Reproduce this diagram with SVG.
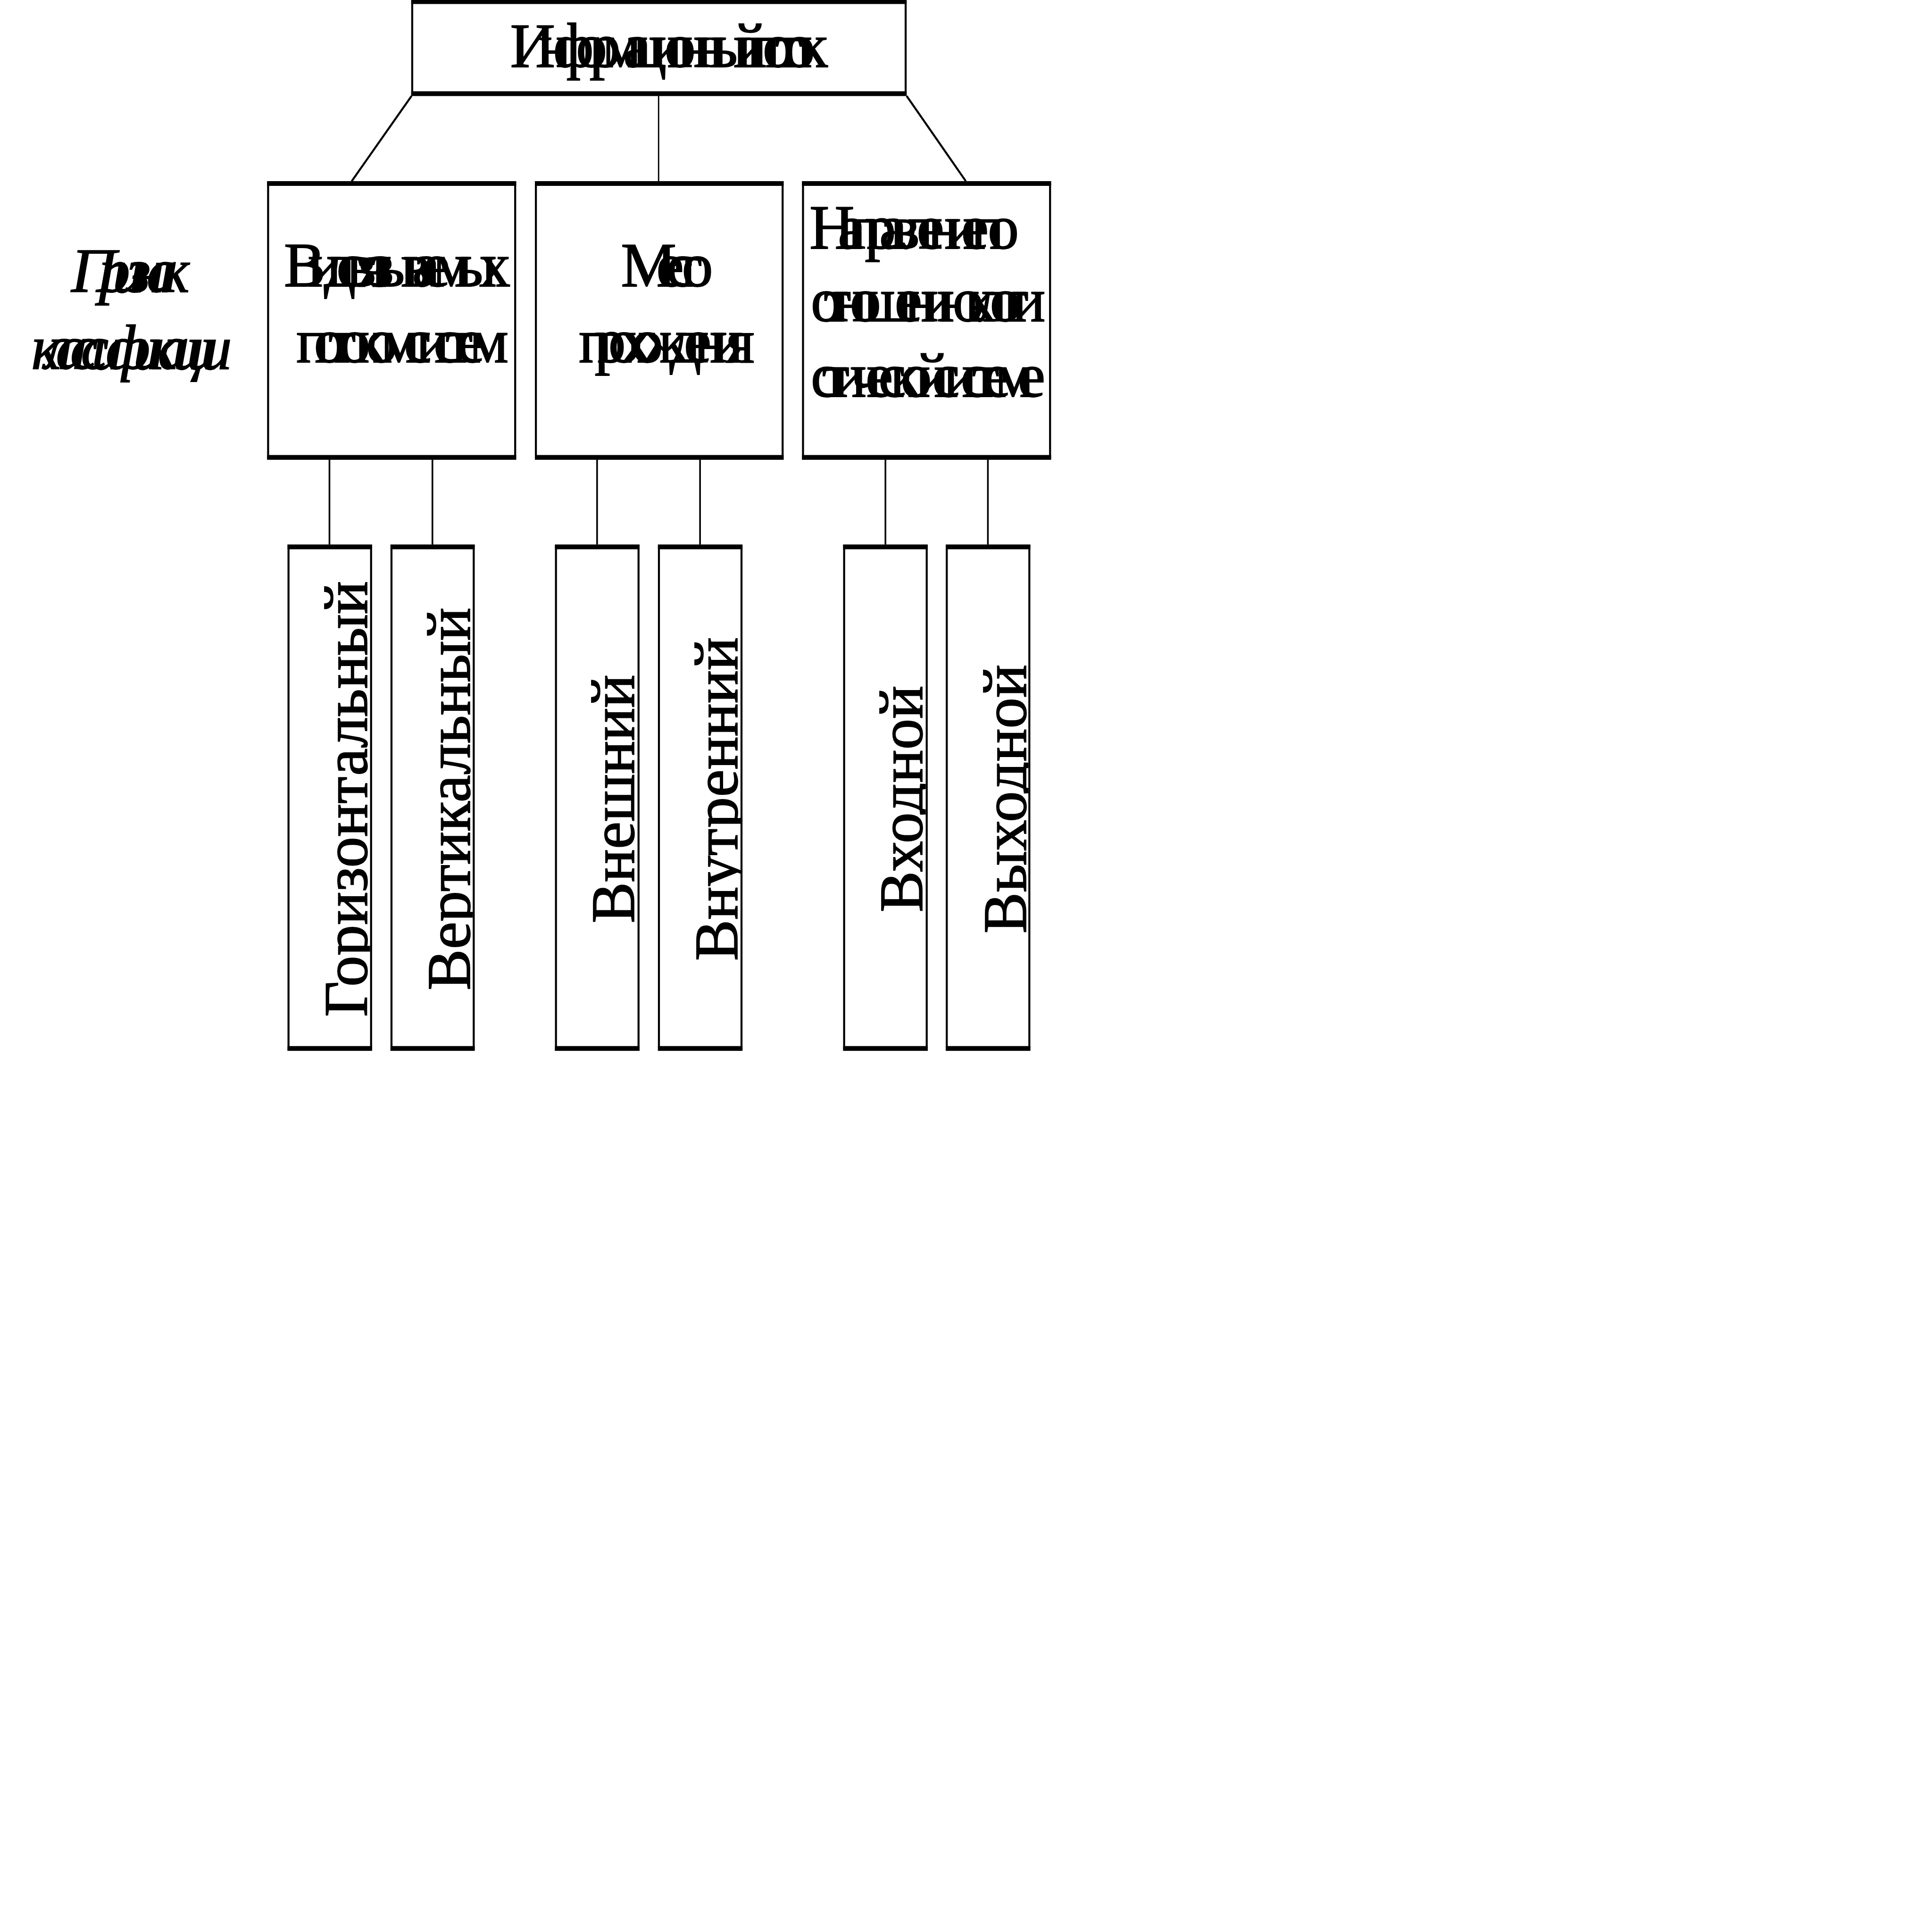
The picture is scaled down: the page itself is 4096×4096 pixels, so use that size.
<svg xmlns="http://www.w3.org/2000/svg" width="4096" height="4096" viewBox="0 0 4096 4096">
<style>
.box{fill:#fff;stroke:#000;stroke-width:6}
.bar{fill:#000}
.conn{stroke:#000;stroke-width:5;fill:none}
.t{font-family:"Liberation Serif","Times New Roman",serif;font-size:187px;fill:#000;stroke:#000;stroke-width:2.5}
.ti{font-style:italic}
.v{font-size:185px;text-anchor:middle}
</style>
<defs>
<clipPath id="c1"><rect x="866" y="1643" width="241" height="1486"/></clipPath>
<clipPath id="c2"><rect x="1174" y="1643" width="240" height="1486"/></clipPath>
<clipPath id="c3"><rect x="1666" y="1643" width="241" height="1486"/></clipPath>
<clipPath id="c4"><rect x="1974" y="1643" width="241" height="1486"/></clipPath>
<clipPath id="c5"><rect x="2528" y="1643" width="241" height="1486"/></clipPath>
<clipPath id="c6"><rect x="2835" y="1643" width="241" height="1486"/></clipPath>
</defs>
<rect x="0" y="0" width="4096" height="4096" fill="#fff"/>
<g transform="scale(0.70877)">
<g id="connectors">
<line class="conn" x1="1231" y1="287" x2="1052" y2="542" style="stroke-width:6"/>
<line class="conn" x1="1970" y1="287" x2="1970" y2="542" style="stroke-width:4"/>
<line class="conn" x1="2712" y1="287" x2="2889" y2="542" style="stroke-width:6"/>
<line class="conn" x1="985.5" y1="1375" x2="985.5" y2="1629"/>
<line class="conn" x1="1293.5" y1="1375" x2="1293.5" y2="1629"/>
<line class="conn" x1="1786" y1="1375" x2="1786" y2="1629"/>
<line class="conn" x1="2094" y1="1375" x2="2094" y2="1629"/>
<line class="conn" x1="2648.5" y1="1375" x2="2648.5" y2="1629"/>
<line class="conn" x1="2955" y1="1375" x2="2955" y2="1629"/>
</g>
<g id="root">
<rect class="box" x="1233" y="3" width="1476" height="281"/>
<rect class="bar" x="1230" y="0" width="1482" height="12"/>
<rect class="bar" x="1230" y="273" width="1482" height="14"/>
<text class="t" x="1526" y="200" textLength="950" lengthAdjust="spacing">Информационный поток</text>
</g>
<g id="label">
<text class="t ti" x="213" y="873" textLength="354" lengthAdjust="spacing">Признак</text>
<text class="t ti" x="94" y="1103" textLength="600" lengthAdjust="spacing">классификации</text>
</g>
<g id="boxA">
<rect class="box" x="802" y="545" width="739" height="827"/>
<rect class="bar" x="799" y="542" width="745" height="14"/>
<rect class="bar" x="799" y="1361" width="745" height="14"/>
<text class="t" x="849" y="857" textLength="678" lengthAdjust="spacing">Вид связываемых</text>
<text class="t" x="886" y="1083" textLength="635" lengthAdjust="spacing">потоком систем</text>
</g>
<g id="boxB">
<rect class="box" x="1603" y="545" width="738" height="827"/>
<rect class="bar" x="1600" y="542" width="744" height="14"/>
<rect class="bar" x="1600" y="1361" width="744" height="14"/>
<text class="t" x="1857" y="857" textLength="276" lengthAdjust="spacing">Место</text>
<text class="t" x="1731" y="1083" textLength="526" lengthAdjust="spacing">прохождения</text>
</g>
<g id="boxC">
<rect class="box" x="2402" y="545" width="739" height="827"/>
<rect class="bar" x="2399" y="542" width="745" height="14"/>
<rect class="bar" x="2399" y="1361" width="745" height="14"/>
<text class="t" x="2421" y="744" textLength="627" lengthAdjust="spacing">Направление по</text>
<text class="t" x="2425" y="961" textLength="702" lengthAdjust="spacing">отношению к логи</text>
<text class="t" x="2425" y="1186" textLength="702" lengthAdjust="spacing">стической системе</text>
</g>
<g id="leaf1">
<rect class="box" x="863" y="1632" width="247" height="1508"/>
<rect class="bar" x="860" y="1629" width="253" height="14"/>
<rect class="bar" x="860" y="3129" width="253" height="14"/>
<g clip-path="url(#c1)"><text class="t v" transform="translate(1097 2390) rotate(-90)">Горизонтальный</text></g>
</g>
<g id="leaf2">
<rect class="box" x="1171" y="1632" width="246" height="1508"/>
<rect class="bar" x="1168" y="1629" width="252" height="14"/>
<rect class="bar" x="1168" y="3129" width="252" height="14"/>
<g clip-path="url(#c2)"><text class="t v" transform="translate(1405 2390) rotate(-90)">Вертикальный</text></g>
</g>
<g id="leaf3">
<rect class="box" x="1663" y="1632" width="247" height="1508"/>
<rect class="bar" x="1660" y="1629" width="253" height="14"/>
<rect class="bar" x="1660" y="3129" width="253" height="14"/>
<g clip-path="url(#c3)"><text class="t v" transform="translate(1896 2390) rotate(-90)">Внешний</text></g>
</g>
<g id="leaf4">
<rect class="box" x="1971" y="1632" width="247" height="1508"/>
<rect class="bar" x="1968" y="1629" width="253" height="14"/>
<rect class="bar" x="1968" y="3129" width="253" height="14"/>
<g clip-path="url(#c4)"><text class="t v" transform="translate(2205 2390) rotate(-90)">Внутренний</text></g>
</g>
<g id="leaf5">
<rect class="box" x="2525" y="1632" width="247" height="1508"/>
<rect class="bar" x="2522" y="1629" width="253" height="14"/>
<rect class="bar" x="2522" y="3129" width="253" height="14"/>
<g clip-path="url(#c5)"><text class="t v" transform="translate(2758 2390) rotate(-90)">Входной</text></g>
</g>
<g id="leaf6">
<rect class="box" x="2832" y="1632" width="247" height="1508"/>
<rect class="bar" x="2829" y="1629" width="253" height="14"/>
<rect class="bar" x="2829" y="3129" width="253" height="14"/>
<g clip-path="url(#c6)"><text class="t v" transform="translate(3068 2390) rotate(-90)">Выходной</text></g>
</g>
</g>
</svg>
